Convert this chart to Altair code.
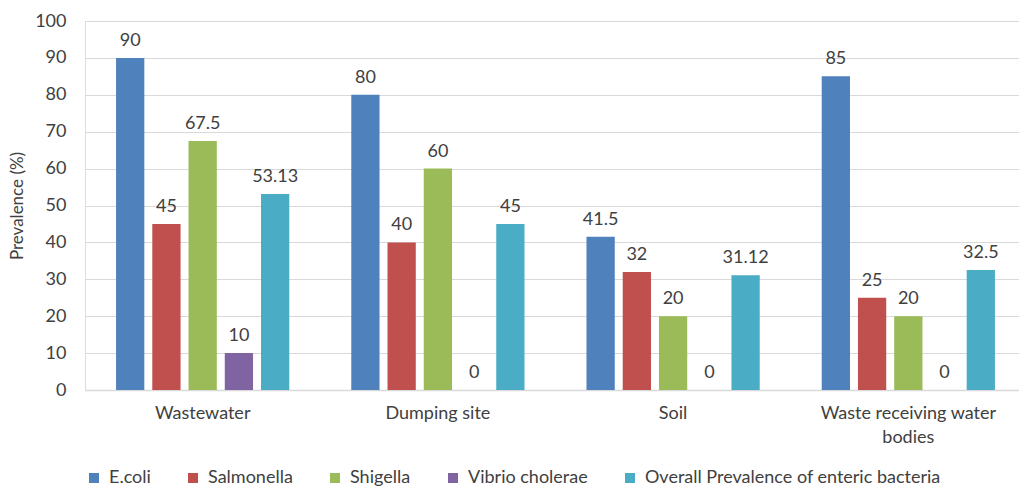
import altair as alt
import pandas as pd

sites = ["Wastewater", "Dumping site", "Soil", "Waste receiving water bodies"]
series = ["E.coli", "Salmonella", "Shigella", "Vibrio cholerae",
          "Overall Prevalence of enteric bacteria"]
colors = ["#4F81BD", "#C0504D", "#9BBB59", "#8064A2", "#4BACC6"]
ecoli = [90, 80, 41.5, 85]
salmonella = [45, 40, 32, 25]
shigella = [67.5, 60, 20, 20]
vibrio = [10, 0, 0, 0]
overall = [53.13, 45, 31.12, 32.5]

rows = []
for si, vals in enumerate([ecoli, salmonella, shigella, vibrio, overall]):
    for gi, v in enumerate(vals):
        rows.append({"site": sites[gi], "series": series[si], "order": si,
                     "value": v, "label": f"{v:g}"})
df = pd.DataFrame(rows)

FONT = "Lato"
TEXT = "#404040"

x = alt.X("site:N", sort=sites, title=None,
          scale=alt.Scale(paddingInner=0.2635, paddingOuter=0.132, range=[0, 941]),
          axis=alt.Axis(labelAngle=0, labelFont=FONT, labelFontSize=18,
                        labelColor=TEXT, labelPadding=14, ticks=False, grid=False,
                        domainColor="#d9d9d9", domainWidth=1.5, labelLimit=0,
                        labelLineHeight=24,
                        labelExpr="datum.label == 'Waste receiving water bodies' ? ['Waste receiving water', 'bodies'] : datum.label"))
xo = alt.XOffset("series:N", sort=series,
                 scale=alt.Scale(paddingInner=0.22, paddingOuter=0))
y = alt.Y("value:Q", title="Prevalence (%)",
          scale=alt.Scale(domain=[0, 100], nice=False),
          axis=alt.Axis(values=list(range(0, 101, 10)), labelFont=FONT,
                        labelFontSize=18, labelColor=TEXT, labelPadding=19,
                        ticks=False, domain=False, gridColor="#d9d9d9",
                        gridWidth=1.2,
                        titleFont=FONT, titleFontSize=17, titleColor=TEXT,
                        titleFontWeight="normal", titlePadding=8))

bars = alt.Chart(df).mark_bar().encode(
    x=x, xOffset=xo, y=y,
    color=alt.Color("series:N", sort=series,
                    scale=alt.Scale(domain=series, range=colors),
                    legend=alt.Legend(title=None, orient="none", direction="horizontal",
                                      legendX=0, legendY=448,
                                      symbolType="square", symbolSize=100,
                                      symbolStrokeWidth=0, columnPadding=33,
                                      labelFont=FONT, labelFontSize=18,
                                      labelColor=TEXT, symbolOffset=0,
                                      labelOffset=6, labelLimit=0)),
)

labels = alt.Chart(df).mark_text(dy=-12, baseline="alphabetic", font=FONT,
                                 fontSize=18, color=TEXT).encode(
    x=x, xOffset=xo, y=y, text="label:N")

chart = (bars + labels).properties(
    width=934, height=369,
    autosize=alt.AutoSizeParams(type="none"),
    padding={"left": 85, "top": 21, "right": 0, "bottom": 99},
).configure_view(stroke=None).configure(background="white")

chart.save("out.html", embed_options={"renderer": "svg", "actions": False})
